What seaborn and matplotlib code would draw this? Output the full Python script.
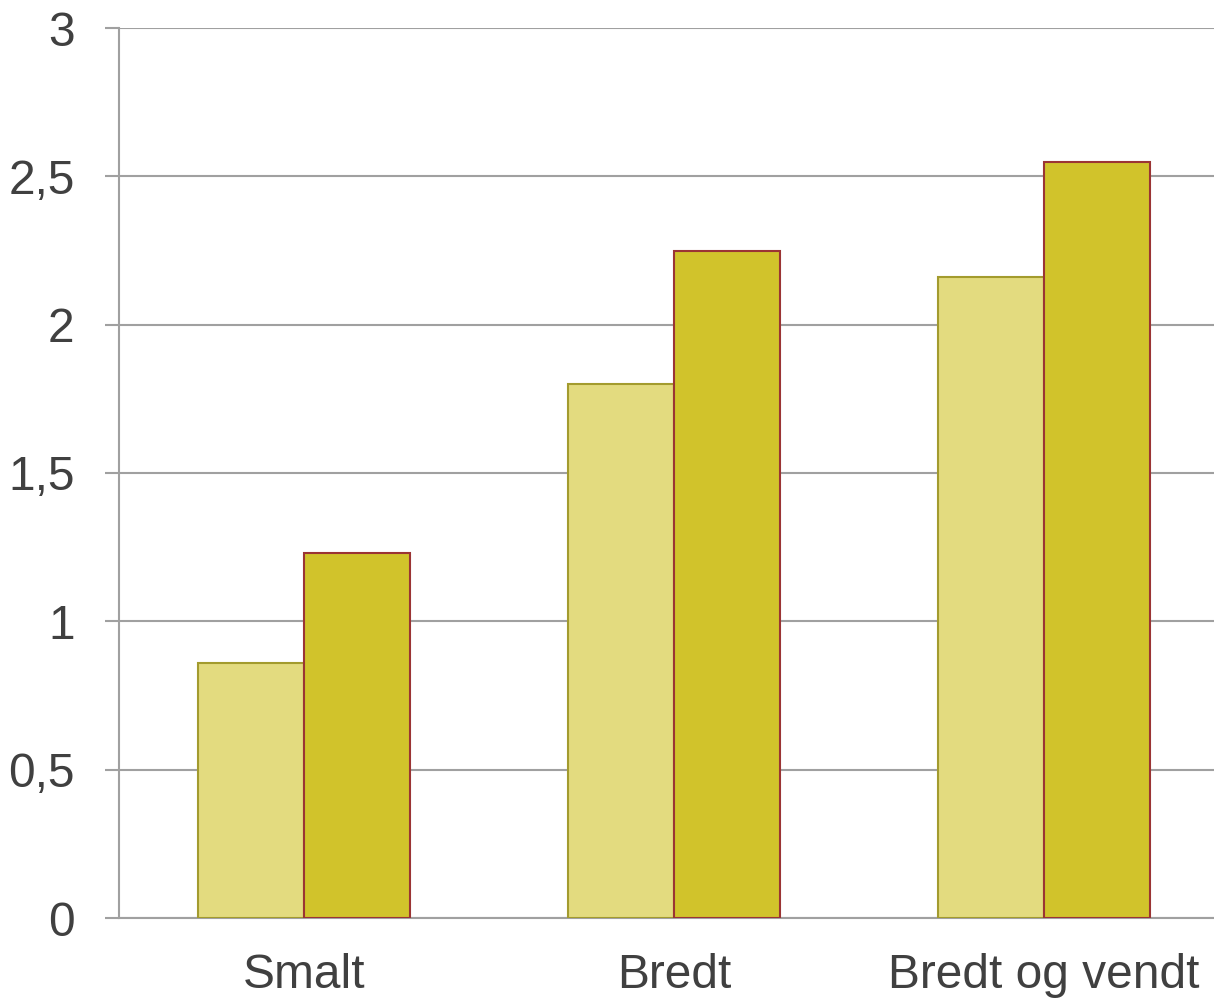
import matplotlib
matplotlib.use("Agg")
import matplotlib.pyplot as plt
import seaborn as sns
import pandas as pd
from matplotlib.ticker import FixedLocator, FuncFormatter

categories = ["Smalt", "Bredt", "Bredt og vendt"]
series_names = ["Serie 1", "Serie 2"]
series1 = [0.86, 1.80, 2.16]
series2 = [1.23, 2.25, 2.55]
y_ticks = [0, 0.5, 1, 1.5, 2, 2.5, 3]

rows = []
for name, vals in zip(series_names, [series1, series2]):
    for c, v in zip(categories, vals):
        rows.append({"kategori": c, "serie": name, "verdi": v})
df = pd.DataFrame(rows)

sns.set_theme(style="white")
plt.rcParams["font.family"] = ["Liberation Sans", "DejaVu Sans"]

fig = plt.figure(figsize=(12.14, 10.01), dpi=100)
W, H = 1214, 1001
ax = fig.add_axes([119 / W, 83 / H, 1110 / W, 890 / H])

fills = ["#e3db7f", "#d1c32b"]
edges = ["#a39b2e", "#9b3434"]
sns.barplot(data=df, x="kategori", y="verdi", hue="serie", order=categories,
            hue_order=series_names, palette=fills, width=0.573, gap=0,
            saturation=1, legend=False, ax=ax, zorder=3)

for i, cont in enumerate(ax.containers):
    for bar in cont:
        bar.set_edgecolor(edges[i])
        bar.set_linewidth(1.5)

ax.set_xlim(-0.5, 2.5)
ax.set_ylim(0, 3)
ax.yaxis.set_major_locator(FixedLocator(y_ticks))
ax.yaxis.set_major_formatter(FuncFormatter(lambda v, p: f"{v:g}".replace(".", ",")))
ax.grid(axis="y", color="#a0a0a0", linewidth=1.5, zorder=0)
ax.set_axisbelow(True)

for s in ["top", "right"]:
    ax.spines[s].set_visible(False)
for s in ["left", "bottom"]:
    ax.spines[s].set_color("#a0a0a0")
    ax.spines[s].set_linewidth(1.5)

ax.tick_params(axis="y", which="major", length=10, width=1.5, color="#a0a0a0",
               direction="out", left=True, pad=22, labelsize=34.5, labelcolor="#404040")
ax.tick_params(axis="x", length=0, pad=25, labelsize=34.5, labelcolor="#404040")
ax.set_xlabel("")
ax.set_ylabel("")

fig.savefig("out.png", dpi=100)
